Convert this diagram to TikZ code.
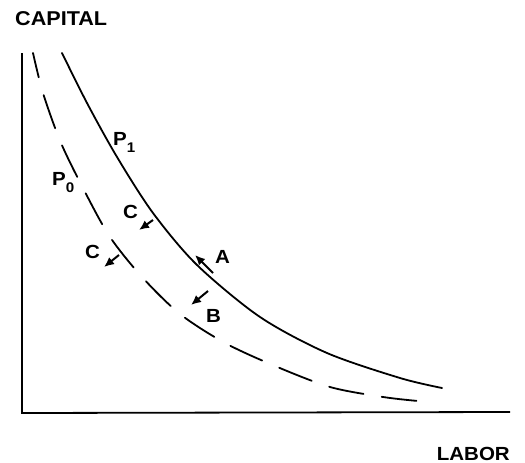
\documentclass[tikz,border=0pt]{standalone}
\usepackage{fontspec}
\setmainfont{Liberation Sans}
\newfontfamily\labfont[FakeStretch=1.08]{Liberation Sans}
\usetikzlibrary{arrows.meta}
\tikzset{
  lbl/.style={inner sep=0pt, font=\labfont\bfseries\fontsize{19}{21}\selectfont},
  curve/.style={line width=1.8pt, line cap=round},
  axis/.style={line width=1.8pt},
  shift arrow/.style={line width=2pt, -{Latex[length=10pt,width=9pt]}}
}
\newcommand{\subs}[1]{\raisebox{-7pt}{\fontsize{14}{14}\selectfont #1}}
\begin{document}
\begin{tikzpicture}[x=1pt,y=-1pt]
\useasboundingbox (0,0) rectangle (525,463);
% axes
\coordinate (top) at (22,53);
\coordinate (origin) at (22,413);
\coordinate (right) at (510,412);
\draw[axis] (top) -- (origin) -- (right);
\node[lbl, anchor=base west, font=\labfont\bfseries\fontsize{20}{22}\selectfont] (capital) at (15,25) {CAPITAL};
\node[lbl, anchor=base east] (labor) at (510,460) {LABOR};
% isoquant P1
\draw[curve] plot[smooth] coordinates {(62,53) (87,103) (117,157) (153,213) (197,265) (260,317) (327,353) (400,378) (442,388)};
% isoquant P0 (dashed)
\draw[curve, dash pattern=on 35pt off 18.5pt, dash phase=10pt] plot[smooth] coordinates {(33,53) (43,93) (61,143) (85,192) (110,237) (142,277) (180,314) (225,343) (275,366) (330,387) (383,397) (418,401)};
% labels
\node[lbl, anchor=base west] (p1) at (113,145) {P\subs{1}};
\node[lbl, anchor=base west] (p0) at (52,185) {P\subs{0}};
\node[lbl, anchor=base west] (c1) at (123,218) {C};
\node[lbl, anchor=base west] (c2) at (85,258) {C};
\node[lbl, anchor=base west] (a) at (215,263) {A};
\node[lbl, anchor=base west] (b) at (206,322) {B};
% shift arrows
\coordinate (c1t) at (153,220); \coordinate (c1h) at (139,230);
\coordinate (c2t) at (119,255); \coordinate (c2h) at (104,267);
\coordinate (at) at (213,273); \coordinate (ah) at (195,255);
\coordinate (bt) at (208,291); \coordinate (bh) at (191,305);
\draw[shift arrow] (c1t) -- (c1h);
\draw[shift arrow] (c2t) -- (c2h);
\draw[shift arrow] (at) -- (ah);
\draw[shift arrow] (bt) -- (bh);
\end{tikzpicture}
\end{document}
